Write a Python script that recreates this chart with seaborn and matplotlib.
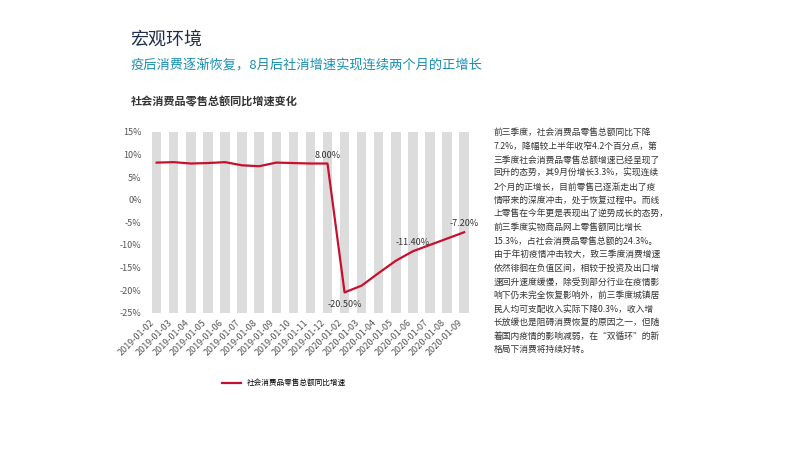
import matplotlib
matplotlib.use("Agg")
import matplotlib.pyplot as plt
import seaborn as sns
import pandas as pd

plt.rcParams["font.family"] = ["Noto Sans CJK SC", "DejaVu Sans"]

# ── Data ──────────────────────────────
months = ["2019-01-02", "2019-01-03", "2019-01-04", "2019-01-05", "2019-01-06",
          "2019-01-07", "2019-01-08", "2019-01-09", "2019-01-10", "2019-01-11",
          "2019-01-12", "2020-01-02", "2020-01-03", "2020-01-04", "2020-01-05",
          "2020-01-06", "2020-01-07", "2020-01-08", "2020-01-09"]
growth = [8.2, 8.3, 8.0, 8.1, 8.3, 7.6, 7.4, 8.2, 8.1, 8.0, 8.0,
          -20.5, -19.0, -16.2, -13.5, -11.4, -10.0, -8.6, -7.2]
labelled = {10: "8.00%", 11: "-20.50%", 15: "-11.40%", 18: "-7.20%"}
yticks = [15, 10, 5, 0, -5, -10, -15, -20, -25]

para1 = ["前三季度，社会消费品零售总额同比下降",
         "7.2%，降幅较上半年收窄4.2个百分点，第",
         "三季度社会消费品零售总额增速已经呈现了",
         "回升的态势，其9月份增长3.3%，实现连续",
         "2个月的正增长，目前零售已逐渐走出了疫",
         "情带来的深度冲击，处于恢复过程中。而线",
         "上零售在今年更是表现出了逆势成长的态势，",
         "前三季度实物商品网上零售额同比增长",
         "15.3%，占社会消费品零售总额的24.3%。"]
para2 = ["由于年初疫情冲击较大，致三季度消费增速",
         "依然徘徊在负值区间，相较于投资及出口增",
         "速回升速度缓慢，除受到部分行业在疫情影",
         "响下仍未完全恢复影响外，前三季度城镇居",
         "民人均可支配收入实际下降0.3%，收入增",
         "长放缓也是阻碍消费恢复的原因之一，但随",
         "着国内疫情的影响减弱，在“双循环”的新",
         "格局下消费将持续好转。"]

RED = "#c8102e"
df = pd.DataFrame({"month": months, "growth": growth, "x": range(len(months))})

fig = plt.figure(figsize=(8, 4.5), dpi=100)
fig.patch.set_facecolor("white")
ax = fig.add_axes([0.183, 0.305, 0.41, 0.402])

ax.bar(df["x"], [40] * len(df), bottom=-25, width=0.55, color="#dcdcdc", zorder=1)
sns.lineplot(data=df, x="x", y="growth", color=RED, linewidth=1.6, ax=ax, zorder=3,
             label="社会消费品零售总额同比增速")
for i, t in labelled.items():
    dy = -9 if i == 11 else 6
    ax.annotate(t, (i, growth[i]), xytext=(0, dy), textcoords="offset points",
                ha="center", va="center", fontsize=6.5, color="#333333", zorder=4)

ax.set_ylim(-25, 15)
ax.set_xlim(-0.6, len(months) - 0.4)
ax.set_yticks(yticks)
ax.set_yticklabels([f"{v}%" for v in yticks], fontsize=6.5, color="#555555")
ax.set_xticks(df["x"])
ax.set_xticklabels(months, rotation=45, ha="right", fontsize=6.5, color="#555555")
ax.tick_params(length=0)
ax.set_xlabel("")
ax.set_ylabel("")
for s in ax.spines.values():
    s.set_visible(False)
ax.legend(loc="upper center", bbox_to_anchor=(0.42, -0.33), frameon=False, fontsize=5.5,
          handlelength=2.5)

fig.text(0.163, 0.9, "宏观环境", fontsize=13, color="#1f2d4d")
fig.text(0.163, 0.845, "疫后消费逐渐恢复，8月后社消增速实现连续两个月的正增长",
         fontsize=9.5, color="#1a8fb0")
fig.text(0.163, 0.765, "社会消费品零售总额同比增速变化", fontsize=8, color="#333333",
         fontweight="bold")
fig.text(0.617, 0.715, "\n".join(para1 + para2), fontsize=6.3, color="#333333", va="top",
         linespacing=1.65)

fig.savefig("out.png", dpi=100)
